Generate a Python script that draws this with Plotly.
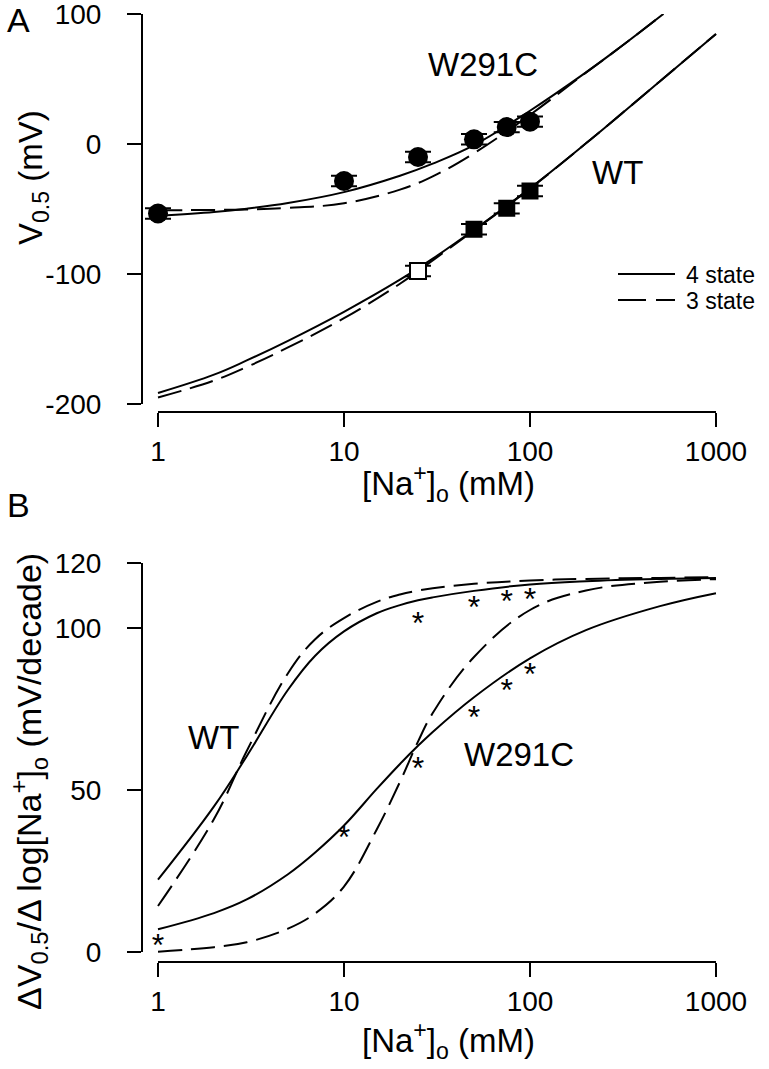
import plotly.graph_objects as go

# ---------------- data ----------------
# Panel A : V0.5 vs [Na+]o
w291c_conc = [1, 10, 25, 50, 75, 100]
w291c_v05 = [-53.5, -28.5, -10, 3.6, 13, 17.2]
w291c_err = [4, 4, 4, 4, 4, 4]

wt_open_conc = [25]
wt_open_v05 = [-97.7]
wt_open_err = [4]
wt_conc = [50, 75, 100]
wt_v05 = [-65.6, -49.5, -36.2]
wt_err = [4, 4, 4]

curveA_wt_x = [1, 2, 3, 5, 10, 20, 30, 50, 100, 200, 500, 1000]
curveA_wt_4state = [-191.5, -177.4, -166.5, -151.4, -129.1, -104.4, -88.2, -66, -34.1, 0.5, 48.3, 84.7]
curveA_wt_3state = [-195, -182, -171.5, -156.5, -134, -107.5, -89.5, -66.5, -34.3, 0.5, 48.3, 84.7]

curveA_w_x = [1, 2, 3, 5, 10, 20, 30, 50, 100, 200, 300, 521]
curveA_w_4state = [-55.4, -52.4, -49.8, -45.4, -37.0, -24.4, -15.1, -0.9, 25.6, 55.1, 73.6, 100]
curveA_w_3state = [-51, -50.7, -50.35, -49.2, -45.6, -35.1, -24.9, -7.1, 22.4, 54.9, 73.6, 100]

# Panel B : slope dV0.5/dlog[Na+]o
curveB_x = [1, 2, 3, 5, 7, 10, 15, 20, 25, 30, 50, 100, 200, 500, 1000]
curveB_wt_4state = [22.3, 44.9, 60.4, 80.9, 91.4, 98.9, 104.5, 107, 108.5, 109.4, 111.4, 113.4, 114.4, 115.1, 115.4]
curveB_wt_3state = [14.2, 41, 62, 86, 96.5, 103, 108, 110.3, 111.5, 112.2, 113.6, 114.6, 115.1, 115.4, 115.6]
curveB_w_4state = [7, 12, 16.2, 24, 30.7, 39, 50.3, 58, 63.6, 67.9, 78.6, 90.6, 99.3, 106.7, 110.7]
curveB_w_3state = [0.1, 1.5, 3.0, 7.2, 11.9, 20.2, 37.8, 52.5, 64.9, 73.7, 91, 105.5, 111.5, 114.2, 115]

star_w_conc = [1, 10, 25, 50, 75, 100]
star_w_slope = [1.2, 34.6, 55.7, 71.7, 79.9, 84.8]
star_wt_conc = [25, 50, 75, 100]
star_wt_slope = [100.5, 105.5, 107.5, 108]

x_ticks = [1, 10, 100, 1000]
yA_ticks = [-200, -100, 0, 100]
yB_ticks = [0, 50, 100, 120]
legend_labels = ["4 state", "3 state"]

# ---------------- figure ----------------
FONT = "Liberation Sans, Arial, sans-serif"
DASH = "24px,9px"
LW = 2
W, H = 769, 1069

def px_x(p):
    return p / W

def px_y(p):
    return (H - p) / H

fig = go.Figure()

def curve(x, y, dash, xa, ya, name):
    fig.add_trace(go.Scatter(
        x=x, y=y, mode="lines", xaxis=xa, yaxis=ya, name=name,
        line=dict(color="black", width=LW, dash=dash, shape="spline", smoothing=1.1),
        showlegend=False, hoverinfo="skip"))

# Panel A curves
curve(curveA_w_x, curveA_w_4state, "solid", "x", "y", "W291C 4 state")
curve(curveA_w_x, curveA_w_3state, DASH, "x", "y", "W291C 3 state")
curve(curveA_wt_x, curveA_wt_4state, "solid", "x", "y", "WT 4 state")
curve(curveA_wt_x, curveA_wt_3state, DASH, "x", "y", "WT 3 state")

# Panel A points
fig.add_trace(go.Scatter(
    x=w291c_conc, y=w291c_v05, mode="markers", xaxis="x", yaxis="y", showlegend=False,
    marker=dict(symbol="circle", size=20, color="black"),
    error_y=dict(type="data", array=w291c_err, color="black", thickness=2, width=13)))
fig.add_trace(go.Scatter(
    x=wt_open_conc, y=wt_open_v05, mode="markers", xaxis="x", yaxis="y", showlegend=False,
    marker=dict(symbol="square", size=16, color="white", line=dict(color="black", width=2)),
    error_y=dict(type="data", array=wt_open_err, color="black", thickness=2, width=13)))
fig.add_trace(go.Scatter(
    x=wt_conc, y=wt_v05, mode="markers", xaxis="x", yaxis="y", showlegend=False,
    marker=dict(symbol="square", size=17, color="black"),
    error_y=dict(type="data", array=wt_err, color="black", thickness=2, width=13)))

# Panel B curves
curve(curveB_x, curveB_wt_4state, "solid", "x2", "y2", "WT 4 state")
curve(curveB_x, curveB_wt_3state, DASH, "x2", "y2", "WT 3 state")
curve(curveB_x, curveB_w_4state, "solid", "x2", "y2", "W291C 4 state")
curve(curveB_x, curveB_w_3state, DASH, "x2", "y2", "W291C 3 state")

# Panel B asterisks
for xs, ys in [(star_w_conc, star_w_slope), (star_wt_conc, star_wt_slope)]:
    fig.add_trace(go.Scatter(
        x=xs, y=ys, mode="text", text=["*"] * len(xs), textposition="middle center",
        textfont=dict(family=FONT, size=32, color="black"),
        xaxis="x2", yaxis="y2", showlegend=False, hoverinfo="skip"))

tick_font = dict(family=FONT, size=28, color="black")
common_x = dict(type="log", tickvals=x_ticks, ticktext=[str(v) for v in x_ticks],
                ticks="outside", ticklen=14, tickwidth=2, tickcolor="black",
                showgrid=False, zeroline=False, showline=False, tickfont=tick_font,
                ticklabelstandoff=0, range=[-0.086, 3.02], automargin=False,
                ticklabeloverflow="allow")
common_y = dict(ticks="outside", ticklen=14, tickwidth=2, tickcolor="black",
                showgrid=False, zeroline=False, showline=False, tickfont=tick_font,
                ticklabelstandoff=20, automargin=False, ticklabeloverflow="allow")

fig.update_layout(
    width=W, height=H, margin=dict(l=0, r=0, t=0, b=0, autoexpand=False),
    paper_bgcolor="white", plot_bgcolor="white",
    font=dict(family=FONT, color="black"),
    xaxis=dict(common_x, domain=[px_x(142), px_x(719.7)], anchor="y"),
    yaxis=dict(common_y, domain=[px_y(412), px_y(14)], anchor="x",
               range=[-206.15, 100], tickvals=yA_ticks, ticktext=[str(v) for v in yA_ticks]),
    xaxis2=dict(common_x, domain=[px_x(142), px_x(719.7)], anchor="y2"),
    yaxis2=dict(common_y, domain=[px_y(962), px_y(563)], anchor="x2",
                range=[-3.085, 120], tickvals=yB_ticks, ticktext=[str(v) for v in yB_ticks]),
    showlegend=False,
)

# detached axis lines
for xa, ya, y0, y1 in [("x", "y", yA_ticks[0], yA_ticks[-1]), ("x2", "y2", yB_ticks[0], yB_ticks[-1])]:
    fig.add_shape(type="line", xref=xa, yref=ya + " domain", x0=x_ticks[0], x1=x_ticks[-1],
                  y0=0, y1=0, line=dict(color="black", width=2))
    fig.add_shape(type="line", xref=xa + " domain", yref=ya, x0=0, x1=0,
                  y0=y0, y1=y1, line=dict(color="black", width=2))

def note(text, x, y, size=33, angle=0, xref="paper", yref="paper", xanchor="center"):
    fig.add_annotation(text=text, x=x, y=y, xref=xref, yref=yref, showarrow=False,
                       xanchor=xanchor, yanchor="middle", textangle=angle, borderpad=0,
                       font=dict(family=FONT, size=size, color="black"))

# legend (line samples + labels)
fig.add_shape(type="line", xref="paper", yref="paper", x0=px_x(618), x1=px_x(675),
              y0=px_y(274), y1=px_y(274), line=dict(color="black", width=2))
fig.add_shape(type="line", xref="paper", yref="paper", x0=px_x(618), x1=px_x(675),
              y0=px_y(300), y1=px_y(300), line=dict(color="black", width=2, dash="28px,10px"))
note(legend_labels[0], px_x(685), px_y(275), size=23, xanchor="left")
note(legend_labels[1], px_x(685), px_y(301), size=23, xanchor="left")

# panel letters
note("A", px_x(18), px_y(20), size=34)
note("B", px_x(18), px_y(505), size=34)
# axis titles
note("[Na<sup>+</sup>]<sub>o</sub> (mM)", px_x(448), px_y(483))
note("[Na<sup>+</sup>]<sub>o</sub> (mM)", px_x(448), px_y(1040))
note("V<sub>0.5</sub> (mV)", px_x(33), px_y(178), angle=-90)
note("ΔV<sub>0.5</sub>/Δ log[Na<sup>+</sup>]<sub>o</sub> (mV/decade)", px_x(29), px_y(782),
     size=34, angle=-90)
# curve labels (data coordinates; log axis uses log10 for annotations)
note("W291C", 1.747, 61.5, xref="x", yref="y")
note("WT", 2.468, -22.3, xref="x", yref="y")
note("WT", 0.301, 66.3, xref="x2", yref="y2")
note("W291C", 1.941, 60.8, xref="x2", yref="y2")

fig.write_html("out.html", config={"displayModeBar": False},
               post_script="document.body.style.margin='0px';")
